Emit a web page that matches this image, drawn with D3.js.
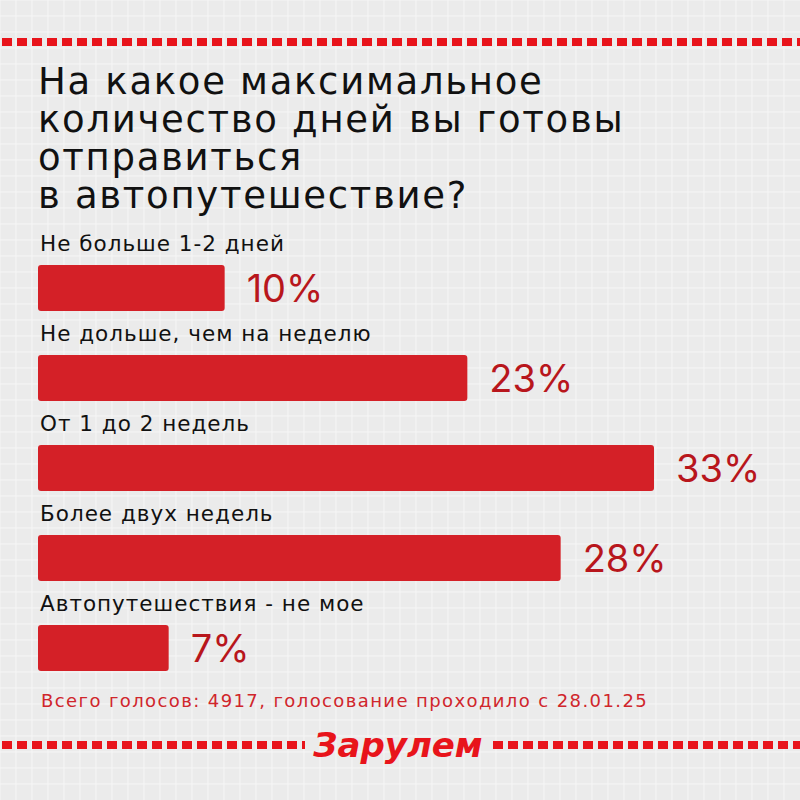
<!DOCTYPE html>
<html><head><meta charset="utf-8">
<script src="https://cdn.jsdelivr.net/npm/d3@7"></script>
<style>body{margin:0}svg{display:block}</style>
</head><body>
<div id="chart"></div>
<script>
var categories = ["Не больше 1-2 дней", "Не дольше, чем на неделю", "От 1 до 2 недель", "Более двух недель", "Автопутешествия - не мое"];
var values = [10, 23, 33, 28, 7];
var titleLines = ["На какое максимальное", "количество дней вы готовы", "отправиться", "в автопутешествие?"];
var footnote = "Всего голосов: 4917, голосование проходило с 28.01.25";

var width = 800, height = 800;
var svg = d3.select("#chart").append("svg").attr("width", width).attr("height", height);

// фон с сеткой
svg.append("rect").attr("width", width).attr("height", height).attr("fill", "#ebebeb");
d3.range(0, 800, 16).forEach(function (p) {
  svg.append("line").attr("x1", p).attr("x2", p).attr("y1", 0).attr("y2", height).attr("stroke", "#f6f6f6").attr("stroke-width", 1);
  svg.append("line").attr("y1", p).attr("y2", p).attr("x1", 0).attr("x2", width).attr("stroke", "#f6f6f6").attr("stroke-width", 1);
});

// пунктир сверху и снизу
function dashes(x0, x1, y) {
  svg.append("line").attr("x1", x0).attr("x2", x1).attr("y1", y).attr("y2", y)
    .attr("stroke", "#e8141b").attr("stroke-width", 8).attr("stroke-dasharray", "10,5");
}
dashes(2, 800, 42);
dashes(2, 305, 745);
dashes(493, 800, 745);

svg.append("text").attr("x", 398).attr("y", 757).attr("text-anchor", "middle")
  .attr("font-family", "DejaVu Sans").attr("font-weight", "bold").attr("font-style", "italic")
  .attr("font-size", 34).attr("fill", "#e8141b").text("Зарулем");

// заголовок одним блоком
var title = svg.append("text")
  .attr("font-family", "DejaVu Sans").attr("font-size", 37).attr("letter-spacing", 1.7)
  .attr("fill", "#111");
title.selectAll("tspan").data(titleLines).enter().append("tspan")
  .attr("x", 38).attr("y", function (d, i) { return 94 + i * 38; })
  .text(function (d) { return d; });

var x = d3.scaleLinear().domain([0, 33]).range([38, 654]);
var y = d3.scaleBand().domain(categories).range([220, 670]).paddingInner(0);

var g = svg.selectAll(".row").data(categories).enter().append("g")
  .attr("transform", function (d) { return "translate(0," + y(d) + ")"; });

g.append("text").attr("x", 40).attr("y", 31)
  .attr("font-family", "DejaVu Sans").attr("font-size", 21.5).attr("letter-spacing", 1).attr("fill", "#111")
  .text(function (d) { return d; });

g.append("rect").attr("x", x(0)).attr("y", 45).attr("height", 46).attr("rx", 3)
  .attr("width", function (d, i) { return x(values[i]) - x(0); })
  .attr("fill", "#d42027");

g.append("text").attr("x", function (d, i) { return x(values[i]) + 22; }).attr("y", 82)
  .attr("font-family", "Inter").attr("font-size", 38).attr("fill", "#b8161c")
  .text(function (d, i) { return values[i] + "%"; });

svg.append("text").attr("x", 41).attr("y", 707)
  .attr("font-family", "DejaVu Sans").attr("font-size", 18).attr("letter-spacing", 1.4).attr("fill", "#d0262c")
  .text(footnote);
</script>
</body></html>
